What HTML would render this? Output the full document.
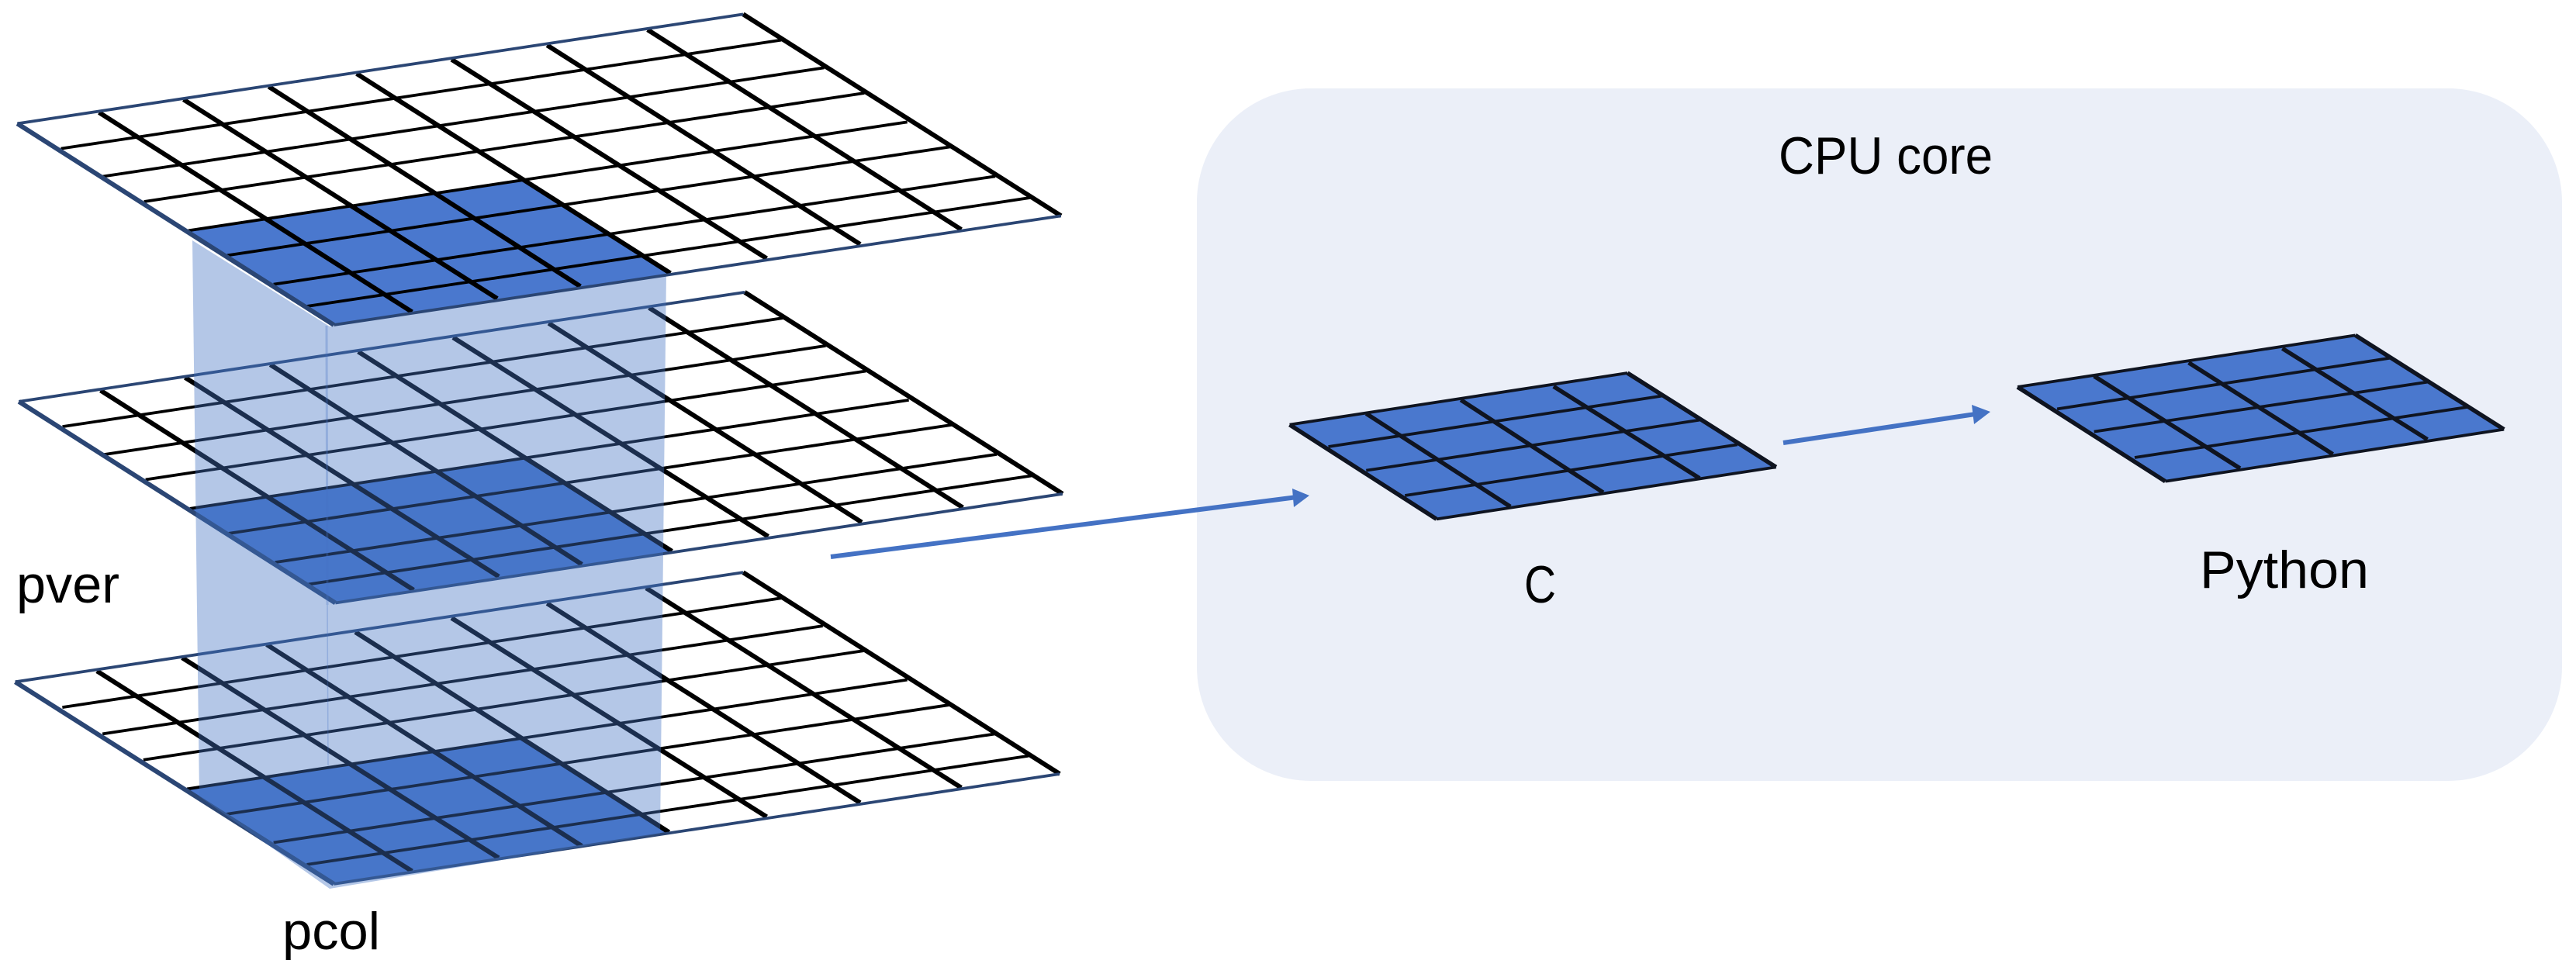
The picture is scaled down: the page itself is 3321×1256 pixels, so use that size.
<!DOCTYPE html>
<html lang="en">
<head>
<meta charset="utf-8">
<title>Diagram</title>
<style>
html,body{margin:0;padding:0;background:#fff;width:3321px;height:1256px;overflow:hidden}
svg{display:block}
.c,.r,.nc,.nr{fill:none;vector-effect:non-scaling-stroke}
.c{stroke:#000;stroke-width:6}
.r{stroke:#000;stroke-width:3.8}
.nc{stroke:#2b4674;stroke-width:6}
.nr{stroke:#2b4674;stroke-width:3.8}
.d{stroke:#0f1420}
.d.c{stroke-width:5.5}
.d.r{stroke-width:3.8}
.t{font-family:"Liberation Sans",sans-serif;font-size:68px;fill:#000}
</style>
</head>
<body>
<svg xmlns="http://www.w3.org/2000/svg" width="3321" height="1256" viewBox="0 0 3321 1256">
<rect width="3321" height="1256" fill="#fff"/>
<rect x="1543" y="114" width="1760" height="893" rx="147" ry="147" fill="#ebeff8"/>

<!-- bottom layer -->
<g transform="matrix(.89286,0,0,.34188,0,720)">
<polygon points="270,870 755,680 966,1033 482,1228" fill="#4a78ce"/>
<path class="r" d="M90 562L1128 150M148 662L1188 255M207 760L1248 348M270 870L1310 458M327 965L1370 553M395 1072L1437 662M443 1155L1485 745"/>
<path class="c" d="M140 425L595 1180M263 375L720 1130M385 325L840 1085M513 278L966 1033M652 225L1107 975M790 170L1242 922M933 112L1388 865M1073 53L1530 813"/>
<path class="nr" d="M1073 53L22 466M482 1228L1530 813"/>
<path class="nc" d="M22 466L482 1228"/>
</g>

<!-- middle layer -->
<g transform="translate(2,358.5) matrix(.89286,0,0,.33333,0,0)">
<polygon points="272,892 755,697 968,1057 482,1257" fill="#4a78ce"/>
<path class="r" d="M88 575L1128 155M148 683L1190 262M208 780L1248 360M272 892L1310 472M328 988L1372 568M395 1100L1437 682M443 1185L1487 765"/>
<path class="c" d="M143 435L595 1207M265 385L718 1155M388 335L838 1108M515 285L968 1057M652 230L1107 1000M790 175L1242 945M935 115L1388 888M1073 55L1532 835"/>
<path class="nr" d="M1073 55L25 478M482 1257L1532 835"/>
<path class="nc" d="M25 478L482 1257"/>
</g>

<!-- translucent column -->
<polygon points="248,310 425,421 859,350 851,1075 425,1146 257,1027" fill="#4472c4" fill-opacity=".4"/>
<line x1="421" y1="420" x2="422" y2="780" stroke="#4472c4" stroke-opacity=".3" stroke-width="3"/>
<line x1="422" y1="780" x2="423" y2="987" stroke="#4472c4" stroke-opacity=".3" stroke-width="1.5"/>

<!-- top layer -->
<g transform="matrix(.89286,0,0,.33333,0,0)">
<polygon points="1073,55 25,478 482,1257 1532,835" fill="#fff"/>
<polygon points="272,892 755,697 968,1057 482,1257" fill="#4a78ce"/>
<path class="r" d="M88 575L1128 155M148 683L1190 262M208 780L1248 360M272 892L1310 472M328 988L1372 568M395 1100L1437 682M443 1185L1487 765"/>
<path class="c" d="M143 435L595 1207M265 385L718 1155M388 335L838 1108M515 285L968 1057M652 230L1107 1000M790 175L1242 945M935 115L1388 888M1073 55L1532 835"/>
<path class="nr" d="M1073 55L25 478M482 1257L1532 835"/>
<path class="nc" d="M25 478L482 1257"/>
</g>

<!-- small grids -->
<g transform="matrix(1.1614,0,0,.33333,1500,400)">
<polygon points="140,443 515,243 680,607 303,808" fill="#4a78ce"/>
<path class="d r" d="M183 528L553 332M225 620L595 425M268 717L637 520M140 443L515 243M303 808L680 607"/>
<path class="d c" d="M225 400L385 760M330 347L488 705M433 295L595 650M140 443L303 808M515 243L680 607"/>
<polygon points="948,297 1323,97 1488,461 1112,662" fill="#4a78ce"/>
<path class="d r" d="M992 382L1362 185M1033 470L1403 278M1078 570L1447 375M948 297L1323 97M1112 662L1488 461"/>
<path class="d c" d="M1033 255L1195 612M1138 203L1298 557M1242 148L1403 500M948 297L1112 662M1323 97L1488 461"/>
</g>

<!-- arrows -->
<line x1="1071" y1="718" x2="1672" y2="641" stroke="#4472c4" stroke-width="6"/>
<polygon points="1688,639 1666,630 1668,654" fill="#4472c4"/>
<line x1="2299" y1="571" x2="2550" y2="533.5" stroke="#4472c4" stroke-width="6"/>
<polygon points="2566,531 2542,522 2545,547" fill="#4472c4"/>

<!-- labels -->
<text class="t" x="2293" y="224" textLength="276" lengthAdjust="spacingAndGlyphs">CPU core</text>
<text class="t" x="21" y="777" textLength="133" lengthAdjust="spacingAndGlyphs">pver</text>
<text class="t" x="364" y="1224" textLength="126" lengthAdjust="spacingAndGlyphs">pcol</text>
<text class="t" x="1965" y="777" textLength="41" lengthAdjust="spacingAndGlyphs">C</text>
<text class="t" x="2836" y="758" textLength="218" lengthAdjust="spacingAndGlyphs">Python</text>
</svg>
</body>
</html>
